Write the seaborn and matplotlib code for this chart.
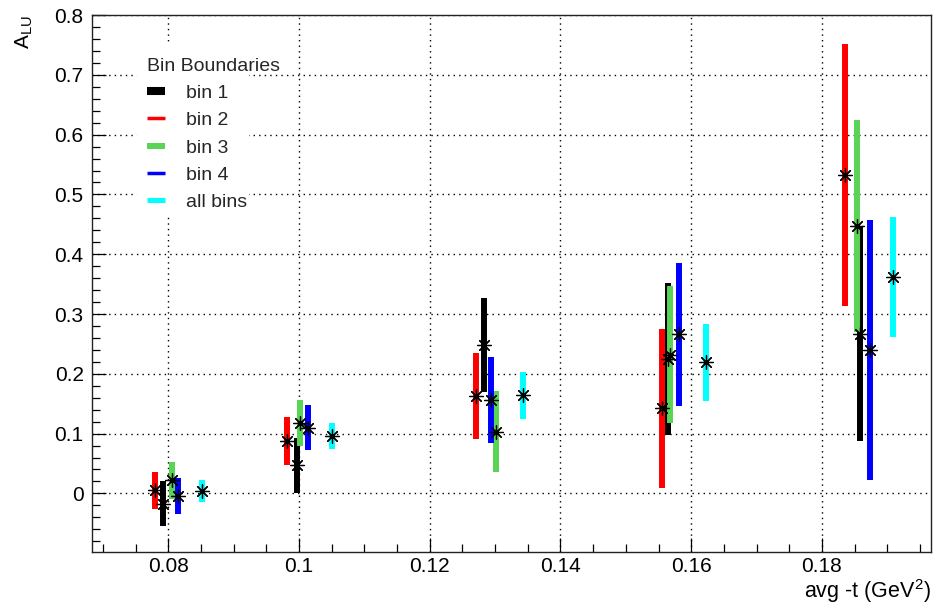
import numpy as np
import pandas as pd
import seaborn as sns
import matplotlib
matplotlib.use("Agg")
import matplotlib.pyplot as plt
from matplotlib.lines import Line2D
from matplotlib.patches import Rectangle
from matplotlib.ticker import MultipleLocator, FuncFormatter

# Beam-spin asymmetry A_LU versus average -t, per kinematic bin
t_bin1 = [0.0792, 0.0997, 0.1283, 0.1565, 0.1859]
alu_bin1 = [-0.017, 0.047, 0.248, 0.225, 0.267]
err_bin1 = [0.038, 0.046, 0.078, 0.127, 0.180]

t_bin2 = [0.0780, 0.0982, 0.1270, 0.1556, 0.1836]
alu_bin2 = [0.005, 0.088, 0.163, 0.142, 0.533]
err_bin2 = [0.031, 0.040, 0.072, 0.133, 0.219]

t_bin3 = [0.0805, 0.1001, 0.1302, 0.1567, 0.1854]
alu_bin3 = [0.022, 0.118, 0.103, 0.232, 0.447]
err_bin3 = [0.031, 0.038, 0.068, 0.115, 0.177]

t_bin4 = [0.0814, 0.1013, 0.1294, 0.1582, 0.1874]
alu_bin4 = [-0.005, 0.110, 0.156, 0.266, 0.240]
err_bin4 = [0.030, 0.038, 0.072, 0.119, 0.218]

t_all = [0.0852, 0.1051, 0.1342, 0.1623, 0.1909]
alu_all = [0.004, 0.096, 0.164, 0.219, 0.362]
err_all = [0.018, 0.022, 0.039, 0.064, 0.100]

series_names = ["bin 1", "bin 2", "bin 3", "bin 4", "all bins"]
series_colors = ["#000000", "#ff0000", "#59d454", "#0000ff", "#00ffff"]
legend_widths = [5.8, 2.5, 4.3, 2.5, 3.6]

frames = []
for name, t, a, e in zip(series_names,
                         [t_bin1, t_bin2, t_bin3, t_bin4, t_all],
                         [alu_bin1, alu_bin2, alu_bin3, alu_bin4, alu_all],
                         [err_bin1, err_bin2, err_bin3, err_bin4, err_all]):
    frames.append(pd.DataFrame({"bin": name, "t": t, "alu": a, "err": e}))
df = pd.concat(frames, ignore_index=True)

sns.set_theme(style="white")
plt.rcParams["font.family"] = ["Liberation Sans", "DejaVu Sans"]
plt.rcParams["mathtext.default"] = "regular"

fig = plt.figure(figsize=(9.35, 6.06), dpi=100)
ax = fig.add_axes([0.0984, 0.0891, 0.8973, 0.8861])

# thick vertical error bars, one colour per bin
for i, (name, color) in enumerate(zip(series_names, series_colors)):
    sub = df[df["bin"] == name]
    ax.vlines(sub["t"], sub["alu"] - sub["err"], sub["alu"] + sub["err"],
              colors=color, linewidth=4.3, zorder=2 + i * 0.1)

# asterisk markers at the central values
sns.scatterplot(data=df, x="t", y="alu", marker=(8, 2, 0), color="black",
                s=100, linewidth=0.9, ax=ax, zorder=5, legend=False)

ax.set_xlim(0.0683, 0.1967)
ax.set_ylim(-0.098, 0.8)
ax.xaxis.set_major_locator(MultipleLocator(0.02))
ax.xaxis.set_minor_locator(MultipleLocator(0.005))
ax.yaxis.set_major_locator(MultipleLocator(0.1))
ax.yaxis.set_minor_locator(MultipleLocator(0.02))
ax.xaxis.set_major_formatter(FuncFormatter(lambda v, p: f"{v:g}"))
ax.yaxis.set_major_formatter(FuncFormatter(lambda v, p: f"{v:g}" if abs(v) > 1e-9 else "0"))

ax.tick_params(which="major", direction="in", length=10, width=0.9,
               labelsize=15, color="black", labelcolor="black",
               bottom=True, left=True, top=False, right=False)
ax.tick_params(axis="x", which="major", pad=3.5)
ax.tick_params(axis="y", which="major", pad=6)
ax.tick_params(which="minor", direction="in", length=5.5, width=0.9,
               color="black", bottom=True, left=True, top=False, right=False)

ax.grid(True, which="major", color="black", linestyle=(0, (1, 3)), linewidth=1.0)
ax.set_axisbelow(True)
for sp in ax.spines.values():
    sp.set_color("#222222")
    sp.set_linewidth(1.0)

ax.set_xlabel("avg -t (GeV$^2$)", fontsize=15.5, loc="right", color="black")
ax.set_ylabel("A$_{LU}$", fontsize=15, loc="top", color="black")
ax.yaxis.set_label_coords(-0.068, 1.0)
ax.xaxis.set_label_coords(1.0, -0.047)

# white background patch behind the legend
ax.add_patch(Rectangle((0.0536, 0.628), 0.133, 0.316, transform=ax.transAxes,
                       facecolor="white", edgecolor="none", zorder=3))

handles = [Line2D([0], [0], color=c, linewidth=w, solid_capstyle="butt")
           for c, w in zip(series_colors, legend_widths)]
leg = ax.legend(handles, series_names, title="Bin Boundaries",
                loc="upper left", bbox_to_anchor=(0.054, 0.939),
                frameon=False, fontsize=14, title_fontsize=14,
                handlelength=0.93, handletextpad=1.08, labelspacing=0.5,
                borderpad=0.0, alignment="left")
leg.set_zorder(6)

fig.savefig("out.png", dpi=100, facecolor="white")
